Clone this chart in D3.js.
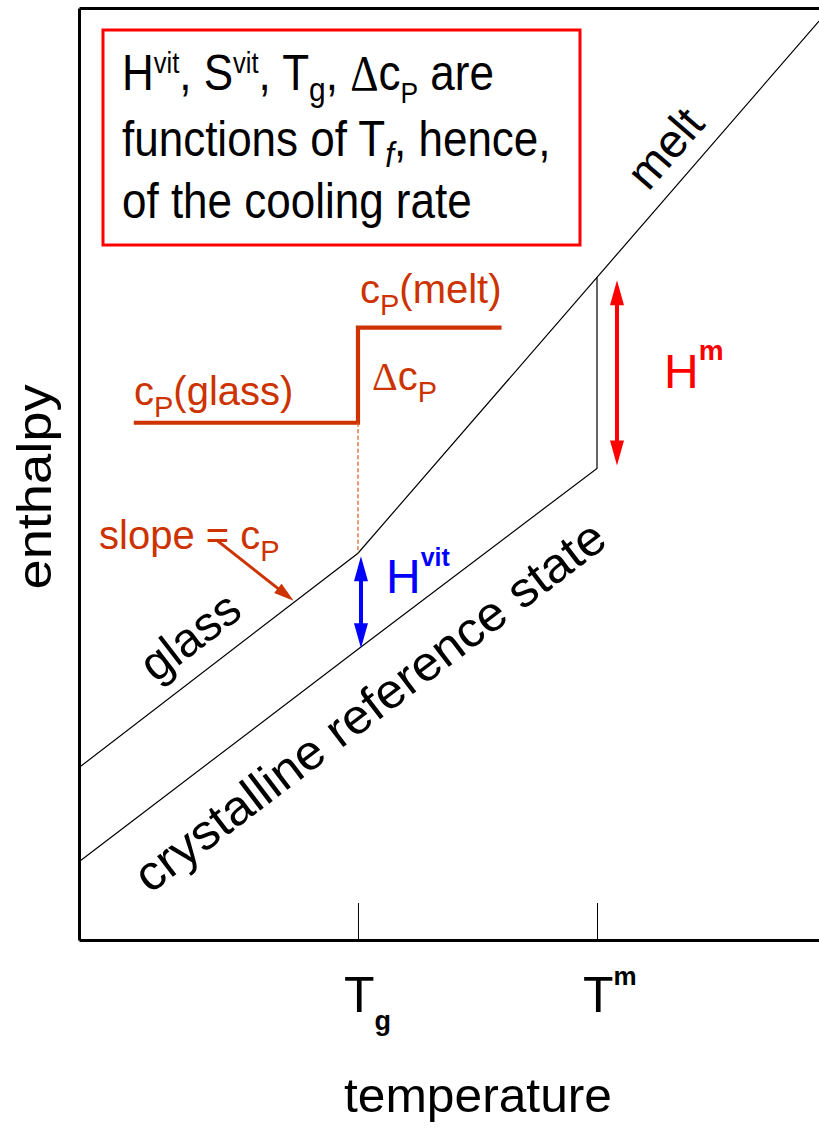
<!DOCTYPE html>
<html>
<head>
<meta charset="utf-8">
<script src="https://cdn.jsdelivr.net/npm/d3@7"></script>
<style>
  html, body { margin: 0; padding: 0; background: #fff; }
  svg { display: block; font-family: "Liberation Sans", Arial, Helvetica, sans-serif; }
</style>
</head>
<body>
<svg id="chart" width="819" height="1128"></svg>
<script>
// Enthalpy vs. temperature for a glass-forming liquid (schematic, arbitrary units)

// characteristic temperatures on the x axis
const tickNames = ["Tg", "Tm"];
const tickTemps = [37.7, 70];

// glass branch (below Tg) continuing as the melt branch (above Tg)
const glassMeltT = [0, 37.7, 70, 100];
const glassMeltH = [18.5, 41.5, 71.1, 98.6];

// crystalline reference state, up to the melting point
const crystalT = [0, 37.7, 70];
const crystalH = [8.4, 31.2, 50.6];

// heat capacity step at Tg (glass level, then melt level)
const cpT = [7.4, 37.7, 57.1];
const cpH = [55.5, 65.7, 65.7];

// "slope = cP" pointer: tail and tip
const slopeT = [18.6, 29.0];
const slopeH = [42.9, 36.4];

const ORANGE = "#cc3300", RED = "#ff0000", BLUE = "#0000ff";

const svg = d3.select("#chart");
const x = d3.scaleLinear().domain([0, 100]).range([79, 819]);
const y = d3.scaleLinear().domain([0, 100]).range([940, 8]);

const pts = (ts, hs) => ts.map((t, i) => ({ t, h: hs[i] }));
const glassMelt = pts(glassMeltT, glassMeltH);
const crystal = pts(crystalT, crystalH);
const cpStep = pts(cpT, cpH);
const slope = pts(slopeT, slopeH);
const Tg = tickTemps[0], Tm = tickTemps[1];
const hAt = (series, t) => {
  for (let i = 1; i < series.length; i++) {
    const a = series[i - 1], b = series[i];
    if (t <= b.t) return a.h + (b.h - a.h) * (t - a.t) / (b.t - a.t);
  }
  return series[series.length - 1].h;
};

const line = d3.line().x(d => x(d.t)).y(d => y(d.h));

// ---------- frame and axes ----------
const axisStyle = g => g.select(".domain").attr("stroke", "#000").attr("stroke-width", 3);
svg.append("g").attr("transform", `translate(${x(0)},0)`)
  .call(d3.axisLeft(y).tickValues([]).tickSizeOuter(0)).call(axisStyle);
svg.append("g").attr("transform", `translate(0,${y(100)})`)
  .call(d3.axisTop(x).tickValues([]).tickSizeOuter(0)).call(axisStyle);
const xAxis = svg.append("g").attr("transform", `translate(0,${y(0)})`)
  .call(d3.axisBottom(x).tickValues(tickTemps).tickSize(-37).tickSizeOuter(0).tickFormat(""))
  .call(axisStyle);
xAxis.selectAll(".tick line").attr("stroke", "#000").attr("stroke-width", 1);

// ---------- rich text helper (sub/superscripts) ----------
function rich(sel, parts) {
  let shift = 0;
  parts.forEach(p => {
    const target = p.dy || 0;
    const ts = sel.append("tspan").text(p.t).attr("dy", target - shift);
    shift = target;
    if (p.fs) ts.attr("font-size", p.fs);
    if (p.bold) ts.attr("font-weight", "bold");
    if (p.italic) ts.attr("font-style", "italic");
    if (p.family) ts.attr("font-family", p.family);
  });
  return sel;
}
const SERIF = "'Liberation Serif', 'Times New Roman', serif";

// ---------- curves ----------
svg.append("path").datum(glassMelt).attr("d", line)
  .attr("fill", "none").attr("stroke", "#000").attr("stroke-width", 1.2);
svg.append("path").datum(crystal.concat([{ t: Tm, h: hAt(glassMelt, Tm) }])).attr("d", line)
  .attr("fill", "none").attr("stroke", "#000").attr("stroke-width", 1.2);

// cp step
const stepLine = d3.line().x(d => x(d.t)).y(d => y(d.h)).curve(d3.curveStepAfter);
svg.append("path").datum(cpStep).attr("d", stepLine)
  .attr("fill", "none").attr("stroke", ORANGE).attr("stroke-width", 4.2);
// dashed drop from the step to the glass curve
svg.append("path").datum([{ t: Tg, h: cpH[0] }, { t: Tg, h: hAt(glassMelt, Tg) }]).attr("d", line)
  .attr("fill", "none").attr("stroke", "#e0602a")
  .attr("stroke-width", 1.3).attr("stroke-dasharray", "4,2.5");

// ---------- arrows ----------
function arrow(x1, y1, x2, y2, color, width, headLen, headW, both) {
  const g = svg.append("g");
  const dx = x2 - x1, dy = y2 - y1, L = Math.hypot(dx, dy);
  const ux = dx / L, uy = dy / L, nx = -uy, ny = ux;
  const s = both ? headLen * 0.8 : 0, e = headLen * 0.8;
  g.append("line")
    .attr("x1", x1 + ux * s).attr("y1", y1 + uy * s)
    .attr("x2", x2 - ux * e).attr("y2", y2 - uy * e)
    .attr("stroke", color).attr("stroke-width", width);
  const head = (tx, ty, dirx, diry) => {
    const bx = tx - dirx * headLen, by = ty - diry * headLen;
    g.append("path")
      .attr("d", `M${tx},${ty}L${bx + nx * headW / 2},${by + ny * headW / 2}L${bx - nx * headW / 2},${by - ny * headW / 2}Z`)
      .attr("fill", color);
  };
  head(x2, y2, ux, uy);
  if (both) head(x1, y1, -ux, -uy);
}

// H^vit between crystal and glass at Tg
arrow(x(Tg) + 3, y(hAt(crystal, Tg)) - 1, x(Tg) + 3, y(hAt(glassMelt, Tg)) + 3, BLUE, 4, 25, 14, true);
// H^m between crystal and melt at Tm
arrow(x(Tm) + 20, y(hAt(crystal, Tm)) - 3, x(Tm) + 20, y(hAt(glassMelt, Tm)) + 3, RED, 4, 25, 14, true);
// slope pointer onto the glass branch
arrow(x(slope[0].t), y(slope[0].h), x(slope[1].t), y(slope[1].h), ORANGE, 3, 20, 12, false);

// ---------- labels on the curves ----------
function onLine(a, b, t, offset, txt, fs, len) {
  const p = { x: x(t), y: y(a.h + (b.h - a.h) * (t - a.t) / (b.t - a.t)) };
  const ang = Math.atan2(y(b.h) - y(a.h), x(b.t) - x(a.t)) * 180 / Math.PI;
  const tx = svg.append("text")
    .attr("transform", `translate(${p.x},${p.y}) rotate(${ang})`)
    .attr("y", offset).attr("text-anchor", "middle")
    .attr("font-size", fs).attr("fill", "#000").text(txt);
  if (len) tx.attr("textLength", len).attr("lengthAdjust", "spacingAndGlyphs");
}
onLine(glassMelt[0], glassMelt[1], 18.0, -20, "glass", 48);
onLine(crystal[0], crystal[1], 35.0, 69, "crystalline reference state", 49, 578);
onLine(glassMelt[2], glassMelt[3], 82.6, -17, "melt", 47);

// ---------- cp labels ----------
rich(svg.append("text").attr("x", 134).attr("y", 405).attr("font-size", 40).attr("fill", ORANGE),
  [{ t: "c" }, { t: "P", fs: 29, dy: 12 }, { t: "(glass)" }]);
rich(svg.append("text").attr("x", 360).attr("y", 303).attr("font-size", 40).attr("fill", ORANGE),
  [{ t: "c" }, { t: "P", fs: 29, dy: 12 }, { t: "(melt)" }]);
rich(svg.append("text").attr("x", 372).attr("y", 390).attr("font-size", 40).attr("fill", ORANGE),
  [{ t: "Δ", family: SERIF }, { t: "c" }, { t: "P", fs: 29, dy: 12 }]);
rich(svg.append("text").attr("x", 99).attr("y", 549).attr("font-size", 40).attr("fill", ORANGE),
  [{ t: "slope = c" }, { t: "P", fs: 29, dy: 12 }]);

// ---------- enthalpy labels ----------
rich(svg.append("text").attr("x", 386).attr("y", 593).attr("font-size", 48).attr("fill", BLUE),
  [{ t: "H" }, { t: "vit", fs: 25, bold: true, dy: -27 }]);
rich(svg.append("text").attr("x", 664).attr("y", 388).attr("font-size", 48).attr("fill", RED),
  [{ t: "H" }, { t: "m", fs: 28, bold: true, dy: -28 }]);

// ---------- info box ----------
svg.append("rect").attr("x", 103).attr("y", 30).attr("width", 477).attr("height", 215)
  .attr("fill", "none").attr("stroke", RED).attr("stroke-width", 3);
const box = svg.append("g").attr("transform", "translate(122,0) scale(0.88,1)");
const boxFs = 50;
rich(box.append("text").attr("x", 0).attr("y", 90).attr("font-size", boxFs),
  [{ t: "H" }, { t: "vit", fs: 29, dy: -17 }, { t: ", S" }, { t: "vit", fs: 29, dy: -17 },
   { t: ", T" }, { t: "g", fs: 34, dy: 11 }, { t: ", " },
   { t: "Δ", family: SERIF }, { t: "c" }, { t: "P", fs: 30, dy: 13 }, { t: " are" }]);
rich(box.append("text").attr("x", 0).attr("y", 156).attr("font-size", boxFs),
  [{ t: "functions of T" }, { t: "f", fs: 36, italic: true, dy: 11 }, { t: ", hence," }]);
rich(box.append("text").attr("x", 0).attr("y", 218).attr("font-size", boxFs),
  [{ t: "of the cooling rate" }]);

// ---------- axis labels ----------
const tickLabelParts = {
  Tg: [{ t: "T" }, { t: "g", fs: 27, bold: true, dy: 18 }],
  Tm: [{ t: "T" }, { t: "m", fs: 26, bold: true, dy: -27 }]
};
tickNames.forEach((n, i) => {
  rich(svg.append("text").attr("x", x(tickTemps[i]) - 14).attr("y", 1012).attr("font-size", 50),
    tickLabelParts[n]);
});
svg.append("text").attr("x", 478).attr("y", 1112).attr("text-anchor", "middle")
  .attr("font-size", 48).attr("textLength", 268).attr("lengthAdjust", "spacingAndGlyphs")
  .text("temperature");
svg.append("text").attr("transform", "translate(51,487) rotate(-90)")
  .attr("text-anchor", "middle").attr("font-size", 48)
  .attr("textLength", 205).attr("lengthAdjust", "spacingAndGlyphs").text("enthalpy");
</script>
</body>
</html>
